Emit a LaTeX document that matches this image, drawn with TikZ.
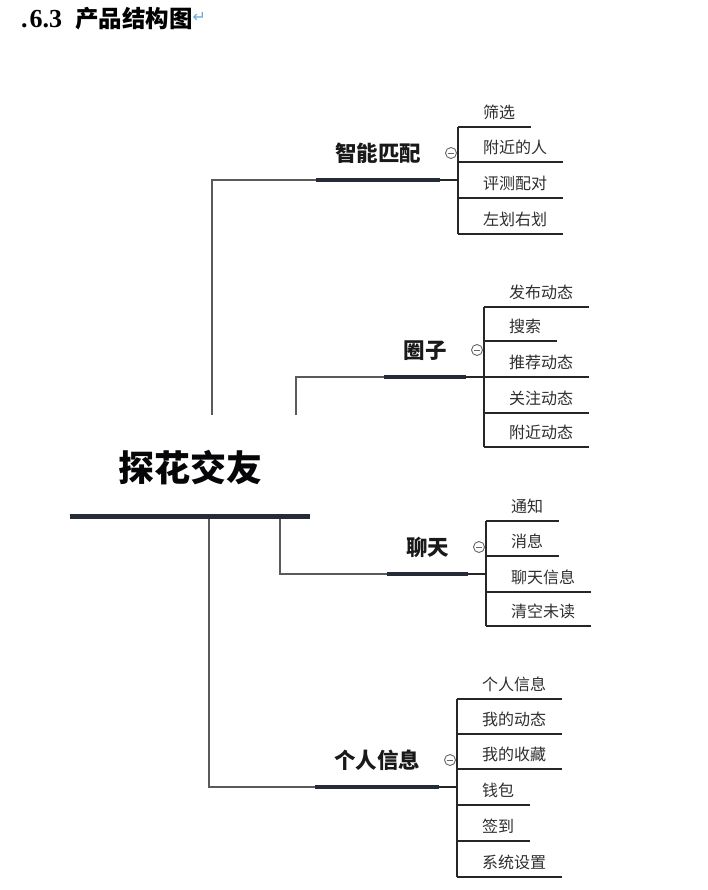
\documentclass[tikz,border=0pt]{standalone}
\usepackage{fontspec}
\usepackage{xcolor}
\usepackage{tikz}
\usetikzlibrary{positioning}

\newfontfamily\cjk{Noto Sans CJK SC}
\newfontfamily\numfont{Liberation Serif}
\newfontfamily\symfont{DejaVu Sans}

\definecolor{barnavy}{HTML}{262B38}
\definecolor{stemgray}{HTML}{5A5A5A}
\definecolor{leafink}{HTML}{2E2E2E}
\definecolor{retblue}{HTML}{6FA8DC}

\begin{document}
\begin{tikzpicture}[x=1pt, y=-1pt,
            root/.style    ={anchor=south, inner xsep=48pt, inner ysep=30pt,
                             font=\cjk\bfseries\fontsize{36}{36}\selectfont, text=black!85!barnavy,
                             text height=31.7pt, text depth=4.3pt},
            branch/.style  ={anchor=south, inner xsep=19pt, inner ysep=16pt,
                             font=\cjk\bfseries\fontsize{21.5}{21.5}\selectfont, text=black!90,
                             text height=18.9pt, text depth=2.6pt},
            leaf/.style    ={anchor=south west, inner xsep=0pt, inner ysep=6.5pt,
                             font=\cjk\fontsize{16}{16}\selectfont, text=leafink,
                             text height=14.1pt, text depth=1.9pt,
                             execute at begin node=\hspace*{25pt},
                             execute at end node=\hspace*{16pt},
                             append after command={(\tikzlastnode.south west) edge[leafline] (\tikzlastnode.south east)}},
            fold/.style    ={circle, draw=gray!80!black, line width=0.9pt, minimum size=11pt, inner sep=0pt,
                             path picture={\draw[gray!80!black, line width=0.9pt]
                               ([xshift=-3.2pt]path picture bounding box.center) -- ([xshift=3.2pt]path picture bounding box.center);}},
            bar/.style     ={line width=4.5pt, barnavy},
            stem/.style    ={line width=1.3pt, stemgray},
            leafline/.style={line width=1.2pt, black!85}
        ]
            \fill[white] (0,0) rectangle (708,890);
            \useasboundingbox (0,0) rectangle (708,890);

            % --- Titulo ---
            \node[anchor=base west, inner sep=0pt] (title) at (21,28)
                {{\numfont\bfseries\fontsize{26}{26}\selectfont .\hspace{2pt}6.3}\hspace{13pt}{\cjk\bfseries\fontsize{23.5}{23.5}\selectfont 产品结构图}\raisebox{5pt}{\symfont\fontsize{16}{16}\selectfont\color{retblue}↵}};

            % --- Nodos (raiz y ramas) ---
            \node[root]   (tanhua)   at (190,516)   {探花交友};
            \node[branch] (pipei)    at (378,180)   {智能匹配};
            \node[branch] (quanzi)   at (425,377)   {圈子};
            \node[branch] (liaotian) at (427.5,574) {聊天};
            \node[branch] (geren)    at (377,787)   {个人信息};

            % --- Hojas: 智能匹配 ---
            \node[leaf] (pp1) at (458,127) {筛选};
            \node[leaf] (pp2) at (458,162) {附近的人};
            \node[leaf] (pp3) at (458,198) {评测配对};
            \node[leaf] (pp4) at (458,234) {左划右划};

            % --- Hojas: 圈子 ---
            \node[leaf] (qz1) at (484,307) {发布动态};
            \node[leaf] (qz2) at (484,341) {搜索};
            \node[leaf] (qz3) at (484,377) {推荐动态};
            \node[leaf] (qz4) at (484,413) {关注动态};
            \node[leaf] (qz5) at (484,447) {附近动态};

            % --- Hojas: 聊天 ---
            \node[leaf] (lt1) at (486,521) {通知};
            \node[leaf] (lt2) at (486,556) {消息};
            \node[leaf] (lt3) at (486,592) {聊天信息};
            \node[leaf] (lt4) at (486,626) {清空未读};

            % --- Hojas: 个人信息 ---
            \node[leaf] (gr1) at (457,699) {个人信息};
            \node[leaf] (gr2) at (457,734) {我的动态};
            \node[leaf] (gr3) at (457,769) {我的收藏};
            \node[leaf] (gr4) at (457,805) {钱包};
            \node[leaf] (gr5) at (457,841) {签到};
            \node[leaf] (gr6) at (457,877) {系统设置};

            % --- Botones de plegado ---
            \node[fold] (ppf) at (451,153) {};
            \node[fold] (qzf) at (477,350) {};
            \node[fold] (ltf) at (479,547) {};
            \node[fold] (grf) at (450,760) {};

            % --- Enlaces raiz -> ramas ---
            \coordinate (gappp) at (212,415);
            \coordinate (gapqz) at (296,415);
            \draw[stem] (gappp) |- (pipei.south west);
            \draw[stem] (gapqz) |- (quanzi.south west);
            \draw[stem] ([xshift=90pt]tanhua.south) |- (liaotian.south west);
            \draw[stem] ([xshift=19pt]tanhua.south) |- (geren.south west);

            % Barras gruesas bajo los titulos
            \draw[bar, line width=5pt] (tanhua.south west) -- (tanhua.south east);
            \draw[bar] (pipei.south west)    -- (pipei.south east);
            \draw[bar] (quanzi.south west)   -- (quanzi.south east);
            \draw[bar] (liaotian.south west) -- (liaotian.south east);
            \draw[bar] (geren.south west)    -- (geren.south east);

            % --- Enlaces ramas -> hojas ---
            \draw[leafline] (pipei.south east) -- (pipei.south east -| pp1.south west);
            \draw[leafline] (pp1.south west) -- (pp4.south west);

            \draw[leafline] (quanzi.south east) -- (quanzi.south east -| qz1.south west);
            \draw[leafline] (qz1.south west) -- (qz5.south west);

            \draw[leafline] (liaotian.south east) -- (liaotian.south east -| lt1.south west);
            \draw[leafline] (lt1.south west) -- (lt4.south west);

            \draw[leafline] (geren.south east) -- (geren.south east -| gr1.south west);
            \draw[leafline] (gr1.south west) -- (gr6.south west);

        \end{tikzpicture}
\end{document}
